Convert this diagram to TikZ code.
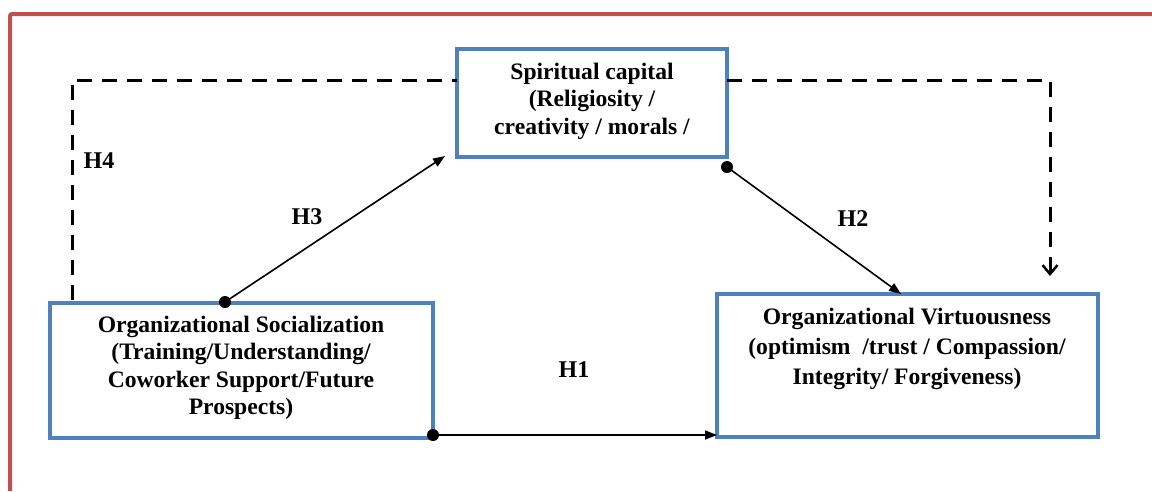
\documentclass[tikz,border=0pt]{standalone}
\usepackage{fontspec}
\setmainfont{Liberation Serif}
\usetikzlibrary{arrows.meta}
\definecolor{framered}{HTML}{C0504D}
\definecolor{boxblue}{HTML}{4F81BD}
\begin{document}
\begin{tikzpicture}[x=1pt,y=-1pt,
  box/.style={draw=boxblue, line width=4pt, rectangle, inner sep=0pt},
  txt/.style={align=center, font=\fontsize{23.6}{27.5}\selectfont\bfseries, inner sep=0pt},
  hlab/.style={font=\fontsize{24}{27}\selectfont\bfseries, inner sep=0pt},
  dsh/.style={line width=3pt, dash pattern=on 15pt off 10pt},
  arr/.style={line width=1.6pt, -{Triangle[length=12pt,width=9pt]}},
  dotc/.style={fill=black}]
\useasboundingbox (0,0) rectangle (1152,491);
\fill[white] (0,0) rectangle (1152,491);
\draw[framered, line width=4pt, rounded corners=2pt] (1152,14) -- (10,14) -- (10,491);

\node[box, minimum width=270pt, minimum height=108pt] (sc) at (592,103) {};
\node[box, minimum width=383pt, minimum height=135pt] (os) at (241.5,370.5) {};
\node[box, minimum width=381pt, minimum height=143pt] (ov) at (907.5,365.5) {};

\node[txt] (sctext) at (592,101) {Spiritual capital\\(Religiosity /\\creativity / morals /};
\node[txt] (ostext) at (241,368) {Organizational Socialization\\(Training/Understanding/\\Coworker Support/Future\\Prospects)};
\node[txt, font=\fontsize{23.6}{30}\selectfont\bfseries] (ovtext) at (907,349) {Organizational Virtuousness\\(optimism~~/trust / Compassion/\\Integrity/ Forgiveness)};

\node[hlab] (h4) at (99,161) {H4};
\node[hlab] (h3) at (307,217) {H3};
\node[hlab] (h2) at (853,219) {H2};
\node[hlab] (h1) at (574,370) {H1};

\coordinate (d1) at (225,302);
\coordinate (d2) at (433,435);
\coordinate (d3) at (727,167);
\coordinate (e3) at (445,156);
\coordinate (e2) at (901,294);
\coordinate (e1) at (717,435);
\coordinate (l1) at (72,300);
\coordinate (l2) at (72,80);
\coordinate (l3) at (457,80);
\coordinate (r1) at (727,80);
\coordinate (r2) at (1050,80);
\coordinate (r3) at (1050,276);

\draw[dsh] (l1) -- (l2) -- (l3);
\draw[dsh] (r1) -- (r2) -- (r3);
\draw[line width=2.5pt, -{Straight Barb[length=9pt,width=15pt]}] (1050,262) -- (r3);

\draw[arr] (d1) -- (e3);
\draw[arr] (d3) -- (e2);
\draw[arr] (d2) -- (e1);
\fill[dotc] (d1) circle (6);
\fill[dotc] (d2) circle (6);
\fill[dotc] (d3) circle (6);
\end{tikzpicture}
\end{document}
